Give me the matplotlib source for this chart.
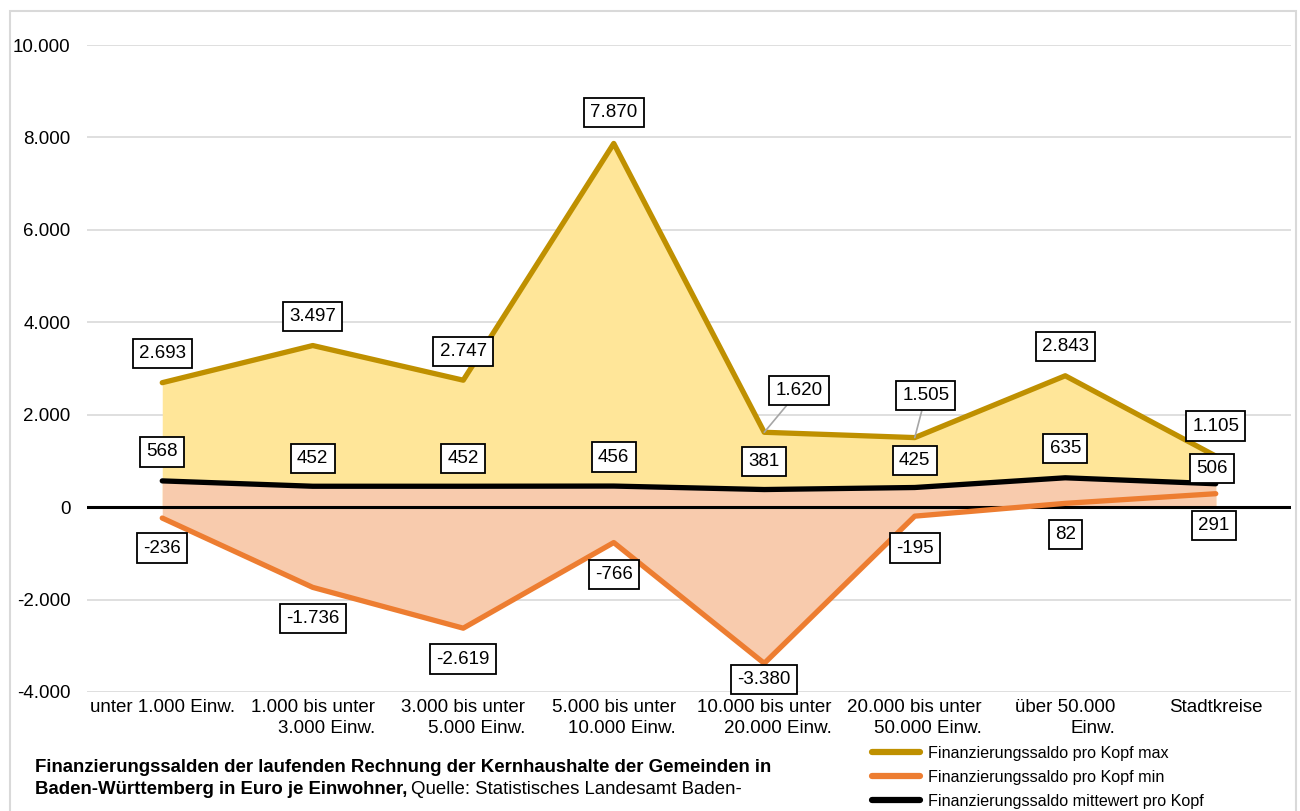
import matplotlib
matplotlib.use("Agg")
import matplotlib.pyplot as plt
from matplotlib.patches import Rectangle
from matplotlib.lines import Line2D
from matplotlib.ticker import FuncFormatter

plt.rcParams['font.family'] = ['Liberation Sans', 'DejaVu Sans']

categories = ["unter 1.000 Einw.", "1.000 bis unter\n3.000 Einw.", "3.000 bis unter\n5.000 Einw.",
              "5.000 bis unter\n10.000 Einw.", "10.000 bis unter\n20.000 Einw.",
              "20.000 bis unter\n50.000 Einw.", "über 50.000\nEinw.", "Stadtkreise"]
saldo_max = [2693, 3497, 2747, 7870, 1620, 1505, 2843, 1105]
saldo_min = [-236, -1736, -2619, -766, -3380, -195, 82, 291]
saldo_mean = [568, 452, 452, 456, 381, 425, 635, 506]

legend_labels = ["Finanzierungssaldo pro Kopf max", "Finanzierungssaldo pro Kopf min",
                 "Finanzierungssaldo mittewert pro Kopf"]

C_MAX, C_MAX_FILL = "#BF9000", "#FFE699"
C_MIN, C_MIN_FILL = "#ED7D31", "#F8CBAD"
C_MEAN = "#000000"
FS = 13.5

def de_fmt(v):
    s = f"{abs(int(round(v))):,}".replace(",", ".")
    return ("-" if v < 0 else "") + s

W, H = 1300, 811
fig = plt.figure(figsize=(W / 100, H / 100), dpi=100)
fig.patches.append(Rectangle((10 / W, -0.1), 1286 / W, 1.1 - 11 / H, transform=fig.transFigure,
                             fill=False, edgecolor="#D9D9D9", linewidth=1.5))

ax = fig.add_axes([87 / W, 1 - 692 / H, (1291 - 87) / W, (692 - 45) / H])
x = list(range(len(categories)))

ax.fill_between(x, 0, saldo_max, color=C_MAX_FILL, linewidth=0, zorder=1)
ax.fill_between(x, 0, saldo_mean, color=C_MIN_FILL, linewidth=0, zorder=1.1)
ax.fill_between(x, 0, saldo_min, color=C_MIN_FILL, linewidth=0, zorder=1.1)

ax.plot(x, saldo_max, color=C_MAX, linewidth=3.8, solid_capstyle="round", zorder=3)
ax.plot(x, saldo_min, color=C_MIN, linewidth=3.8, solid_capstyle="round", zorder=3)
ax.plot(x, saldo_mean, color=C_MEAN, linewidth=3.8, solid_capstyle="round", zorder=3.2)
ax.axhline(0, color="black", linewidth=2.2, zorder=2.5)

ax.set_xlim(-0.5, len(categories) - 0.5)
ax.set_ylim(-4000, 10000)
ax.set_yticks(range(-4000, 10001, 2000))
ax.yaxis.set_major_formatter(FuncFormatter(lambda v, p: de_fmt(v)))
ax.grid(axis="y", color="#D9D9D9", linewidth=1.2, zorder=0)
ax.set_axisbelow(True)
for s in ax.spines.values():
    s.set_visible(False)
ax.tick_params(axis="both", length=0, labelsize=FS)
ax.tick_params(axis="x", pad=5)
ax.tick_params(axis="y", pad=12)
ax.set_xticks(x)
ax.set_xticklabels(categories, fontsize=FS, linespacing=1.3, ha="center")
for lbl in ax.get_xticklabels():
    lbl.set_multialignment("right")

bbox = dict(boxstyle="square,pad=0.33", facecolor="white", edgecolor="black", linewidth=1.3)

def label(xi, v, dx_px, dy_px, leader=False):
    ax.annotate(de_fmt(v), xy=(xi, v), xytext=(dx_px * 0.72, dy_px * 0.72), textcoords="offset points",
                ha="center", va="center", fontsize=FS, bbox=bbox, zorder=6,
                arrowprops=dict(arrowstyle="-", color="#A6A6A6", linewidth=1.2, shrinkA=0, shrinkB=0)
                if leader else None)

max_off = [(0, 29), (0, 29), (0, 29), (0, 31), (35, 42), (11, 42), (0, 29), (0, 30)]
for i, v in enumerate(saldo_max):
    label(i, v, *max_off[i], leader=(i in (4, 5)))
mean_off = [(0, 29), (0, 28), (0, 28), (0, 29), (0, 28), (0, 27), (0, 29), (-4, 15)]
for i, v in enumerate(saldo_mean):
    label(i, v, *mean_off[i])
min_off = [(0, -30), (0, -31), (0, -31), (0, -32), (0, -16), (0, -32), (0, -31), (-2, -32)]
for i, v in enumerate(saldo_min):
    label(i, v, *min_off[i])

handles = [Line2D([], [], color=C_MAX, linewidth=4.5, solid_capstyle="round"),
           Line2D([], [], color=C_MIN, linewidth=4.5, solid_capstyle="round"),
           Line2D([], [], color=C_MEAN, linewidth=4.5, solid_capstyle="round")]
fig.legend(handles, legend_labels, loc="upper left", bbox_to_anchor=(872 / W, 1 - 746 / H),
           frameon=False, fontsize=11.6,
           handlelength=3.0, handletextpad=0.45, labelspacing=0.55,
           borderaxespad=0, borderpad=0)

CAP = 13.4
fig.text(35 / W, 1 - 768 / H, "Finanzierungssalden der laufenden Rechnung der Kernhaushalte der Gemeinden in",
         fontsize=CAP, fontweight="bold", va="center", ha="left")
t1 = fig.text(35 / W, 1 - 790 / H, "Baden-Württemberg in Euro je Einwohner,",
              fontsize=CAP, fontweight="bold", va="center", ha="left")
fig.canvas.draw()
bb = t1.get_window_extent()
fig.text((bb.x1 + 4) / W, 1 - 790 / H, "Quelle: Statistisches Landesamt Baden-",
         fontsize=CAP, va="center", ha="left")

fig.savefig("out.png", dpi=100, facecolor="white")
